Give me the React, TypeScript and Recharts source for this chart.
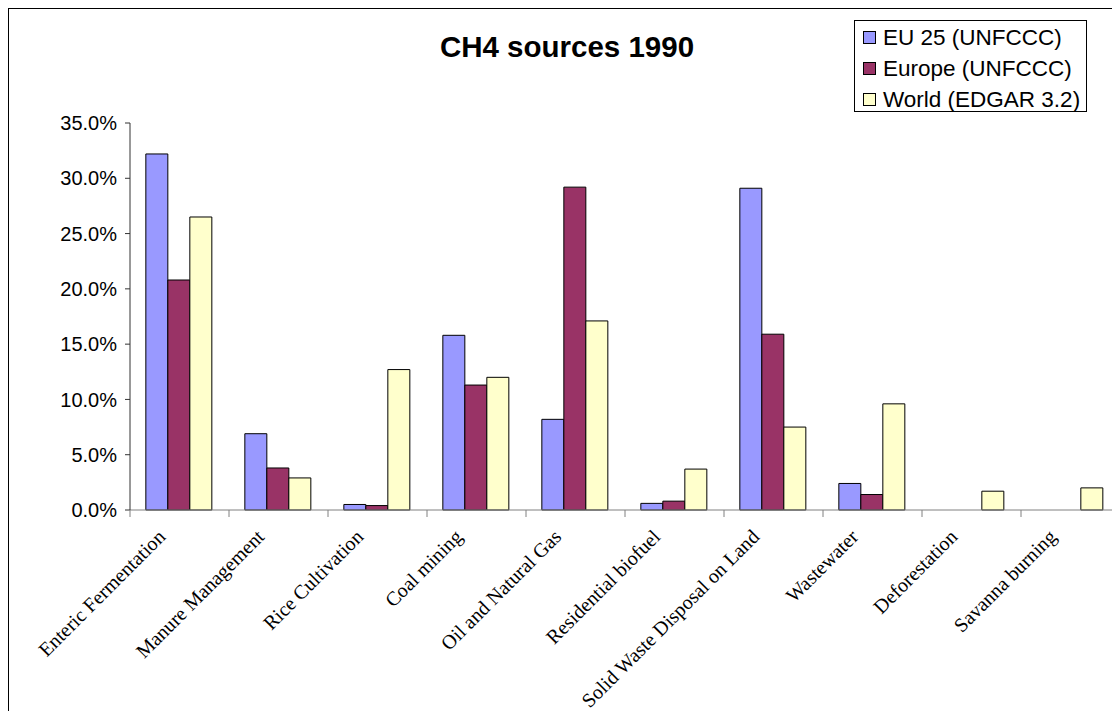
import React from 'react';
import { BarChart, Bar, XAxis, YAxis, Legend } from 'recharts';

const categories = [
  'Enteric Fermentation',
  'Manure Management',
  'Rice Cultivation',
  'Coal mining',
  'Oil and Natural Gas',
  'Residential biofuel',
  'Solid Waste Disposal on Land',
  'Wastewater',
  'Deforestation',
  'Savanna burning',
];

// shares in %
const eu25 = [32.2, 6.9, 0.5, 15.8, 8.2, 0.6, 29.1, 2.4, 0, 0];
const europe = [20.8, 3.8, 0.4, 11.3, 29.2, 0.8, 15.9, 1.4, 0, 0];
const world = [26.5, 2.9, 12.7, 12.0, 17.1, 3.7, 7.5, 9.6, 1.7, 2.0];

const yTicks = [0, 5, 10, 15, 20, 25, 30, 35];

const series = [
  { key: 'eu25', name: 'EU 25 (UNFCCC)', color: '#9999FF' },
  { key: 'europe', name: 'Europe (UNFCCC)', color: '#993366' },
  { key: 'world', name: 'World (EDGAR 3.2)', color: '#FFFFCC' },
];

const data = categories.map((name, i) => ({
  name,
  eu25: eu25[i],
  europe: europe[i],
  world: world[i],
}));

const sans = 'Arial, "Liberation Sans", sans-serif';
const serif = '"Times New Roman", "Liberation Serif", serif';

// label rotated like Excel, plus tick marks on the category edges
function CategoryTick({ x, y, payload, index, width, visibleTicksCount }: any) {
  const half = Number(width || 990) / (visibleTicksCount || 10) / 2;
  const last = index === (visibleTicksCount || 10) - 1;
  return (
    <g transform={`translate(${x},${y})`}>
      <line x1={-half} x2={-half} y1={0} y2={7} stroke='#808080' />
      {last && <line x1={half} x2={half} y1={0} y2={7} stroke='#808080' />}
      <text
        transform='translate(-13,28) rotate(-45)'
        textAnchor='end'
        fontFamily={serif}
        fontSize={20}
        fill='#000'
      >
        {payload.value}
      </text>
    </g>
  );
}

function LegendBox({ payload }: any) {
  return (
    <div
      style={{
        boxSizing: 'border-box',
        width: 233,
        height: 92,
        border: '1px solid #000',
        background: '#fff',
        paddingTop: 1,
        paddingLeft: 8,
      }}
    >
      {(payload || []).map((p: any) => (
        <div
          key={p.value}
          style={{ display: 'flex', alignItems: 'center', height: 31 }}
        >
          <span
            style={{
              boxSizing: 'border-box',
              width: 13,
              height: 13,
              background: p.color,
              border: '1px solid #000',
              marginRight: 7,
            }}
          />
          <span
            style={{
              fontFamily: sans,
              fontSize: 22.5,
              color: '#000',
              whiteSpace: 'nowrap',
            }}
          >
            {p.value}
          </span>
        </div>
      ))}
    </div>
  );
}

export default function App() {
  return (
    <div
      style={{
        position: 'relative',
        width: 1112,
        height: 703,
        overflow: 'hidden',
        fontFamily: sans,
        background: '#fff',
      }}
    >
      <div
        style={{
          position: 'absolute',
          left: 0,
          top: 0,
          width: 1300,
          height: 900,
          border: '1px solid #000',
          pointerEvents: 'none',
          zIndex: 2,
        }}
      />
      <div
        style={{
          position: 'absolute',
          left: 259,
          top: 25,
          width: 600,
          textAlign: 'center',
          fontSize: 29.5,
          lineHeight: '28px',
          fontWeight: 'bold',
          color: '#000',
          zIndex: 1,
        }}
      >
        CH4 sources 1990
      </div>
      <BarChart
        width={1112}
        height={703}
        data={data}
        margin={{ top: 115, right: 0, left: 0, bottom: 141 }}
        barCategoryGap='16%'
        barGap={0}
      >
        <XAxis
          dataKey='name'
          interval={0}
          height={60}
          tickSize={0}
          tickMargin={0}
          tickLine={false}
          axisLine={{ stroke: '#808080' }}
          tick={<CategoryTick />}
        />
        <YAxis
          width={122}
          domain={[0, 35]}
          ticks={yTicks}
          interval={0}
          tickSize={5}
          tickMargin={8}
          tickFormatter={(v: number) => v.toFixed(1) + '%'}
          tick={{ fontFamily: sans, fontSize: 20, fill: '#000' }}
          axisLine={{ stroke: '#333' }}
          tickLine={{ stroke: '#333' }}
        />
        <Legend
          layout='horizontal'
          verticalAlign='middle'
          align='center'
          content={<LegendBox />}
          wrapperStyle={{ left: 846, top: 12, width: 233, height: 92 }}
        />
        {series.map((s) => (
          <Bar
            key={s.key}
            dataKey={s.key}
            name={s.name}
            fill={s.color}
            stroke='#000'
            strokeWidth={1}
            isAnimationActive={false}
          />
        ))}
      </BarChart>
    </div>
  );
}
